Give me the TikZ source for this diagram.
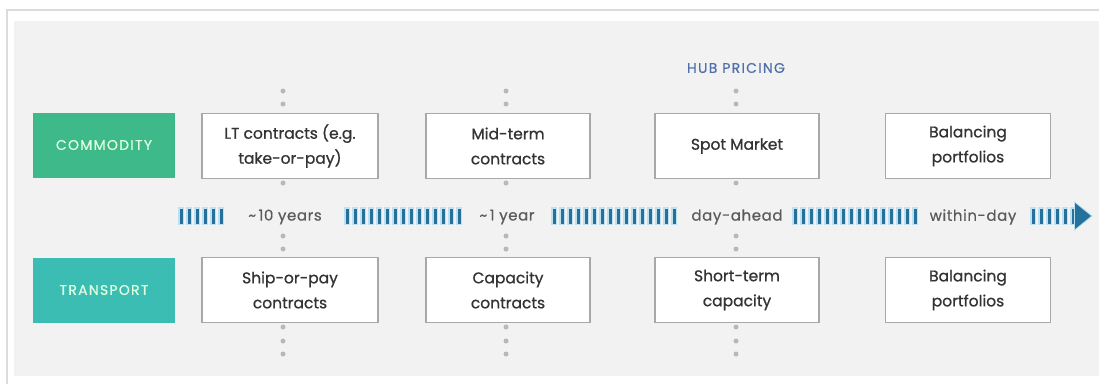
\documentclass[tikz,border=0pt]{standalone}
\usepackage{fontspec}
\setmainfont{Poppins}
\newfontfamily\boxfont[FakeBold=0.8]{Poppins}
\newfontfamily\spaced[LetterSpace=4,FakeBold=0.6]{Poppins}
\newfontfamily\capsp[LetterSpace=9,FakeBold=0.6]{Poppins}
\definecolor{commgreen}{HTML}{3DB98A}
\definecolor{transteal}{HTML}{3CBDB4}
\definecolor{panelgray}{HTML}{F2F2F2}
\definecolor{framegray}{HTML}{DCDCDC}
\definecolor{boxline}{HTML}{A8A8A8}
\definecolor{txtdark}{HTML}{333333}
\definecolor{txtgray}{HTML}{5A5A5A}
\definecolor{hubblue}{HTML}{4E6FAA}
\definecolor{bardark}{HTML}{23719C}
\definecolor{barglow}{HTML}{BFE0EE}
\definecolor{dotgray}{HTML}{B8B8B8}
\tikzset{
  catbox/.style={minimum width=142pt,minimum height=65pt,inner sep=0pt,text=white!88!green,font=\capsp\fontsize{14}{16}\selectfont},
  itembox/.style={draw=boxline,line width=1.2pt,fill=white,minimum height=65pt,inner sep=0pt,align=center,text=txtdark,font=\boxfont\fontsize{15.5}{25}\selectfont},
  tldot/.style={circle,fill=dotgray,inner sep=0pt,minimum size=5pt},
  tllabel/.style={text=txtgray,font=\spaced\fontsize{15}{17}\selectfont,inner sep=0pt},
}
\newcommand{\barseg}[2]{%
  \foreach \k in {1,...,#2}{%
    \fill[barglow] ({#1+(\k-1)*8-1},207) rectangle ({#1+(\k-1)*8+5},225);
  }%
  \foreach \k in {1,...,#2}{%
    \fill[bardark] ({#1+(\k-1)*8+0.5},208.5) rectangle ({#1+(\k-1)*8+3.5},223.5);
  }%
}
\begin{document}
\begin{tikzpicture}[x=1pt,y=-1pt]
\useasboundingbox (0,0) rectangle (1099,383);
\fill[white] (0,0) rectangle (1099,383);
\draw[framegray,line width=1.5pt] (7,390) -- (7,10) -- (1110,10);
\fill[panelgray] (14,21) rectangle (1099,376);

% category boxes
\node[catbox,fill=commgreen] (comm) at (104,145) {COMMODITY};
\node[catbox,fill=transteal] (trans) at (104,290) {TRANSPORT};

% item boxes
\node[itembox,minimum width=176pt] (lt) at (290,146) {LT contracts (e.g.\\take-or-pay)};
\node[itembox,minimum width=164pt] (mid) at (508,146) {Mid-term\\contracts};
\node[itembox,minimum width=164pt] (spot) at (737,146) {Spot Market};
\node[itembox,minimum width=165pt] (bal1) at (968,146) {Balancing\\portfolios};
\node[itembox,minimum width=176pt] (ship) at (290,290) {Ship-or-pay\\contracts};
\node[itembox,minimum width=164pt] (cap) at (508,290) {Capacity\\contracts};
\node[itembox,minimum width=164pt] (short) at (737,290) {Short-term\\capacity};
\node[itembox,minimum width=165pt] (bal2) at (968,290) {Balancing\\portfolios};

\node[text=hubblue,font=\capsp\fontsize{14}{16}\selectfont,inner sep=0pt] (hub) at (736,68) {HUB PRICING};

% dots
\foreach \c/\n in {283/a,506/b,736/c}{
  \foreach \y/\m in {91/1,104/2,183/3,236/4,249/5,327/6,341/7,354/8}{
    \node[tldot] (d\n\m) at (\c,\y) {};
  }
}

% timeline
\barseg{179}{6}
\node[tllabel] (t1) at (285,217) {\textasciitilde\,10 years};
\barseg{345}{15}
\node[tllabel] (t2) at (507,217) {\textasciitilde\,1 year};
\barseg{552}{16}
\node[tllabel] (t3) at (737,217) {day-ahead};
\barseg{793}{16}
\node[tllabel] (t4) at (973,217) {within-day};
\barseg{1031}{6}
\fill[barglow] (1074,201) -- (1093,216) -- (1074,231) -- cycle;
\fill[bardark] (1075,203) -- (1091,216) -- (1075,229) -- cycle;
\end{tikzpicture}
\end{document}
